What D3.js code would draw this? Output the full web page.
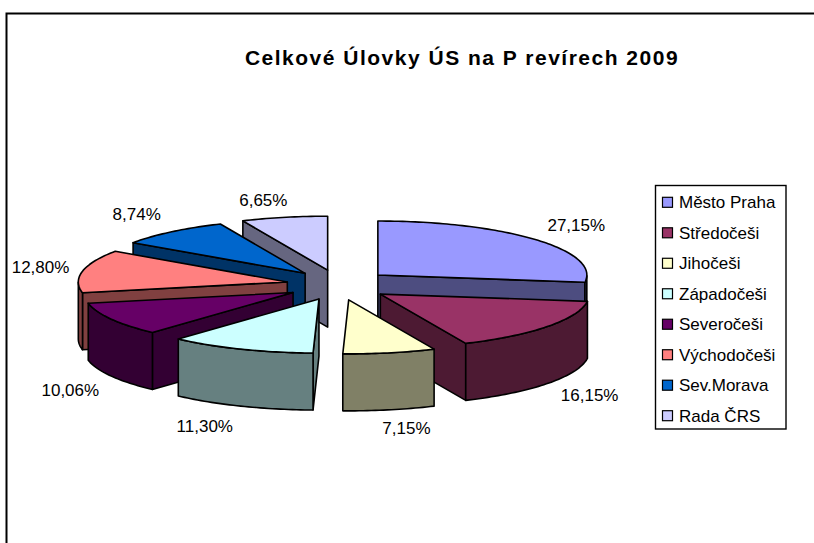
<!DOCTYPE html>
<html lang="cs">
<head>
<meta charset="utf-8">
<script src="https://cdn.jsdelivr.net/npm/d3@7"></script>
<style>
html,body{margin:0;padding:0;background:#fff;overflow:hidden}
svg{display:block}
text{font-family:"Liberation Sans",Arial,sans-serif;fill:#000}
</style>
</head>
<body>
<div id="chart"></div>
<script>
const titleText = "Celkové Úlovky ÚS na P revírech 2009";
const categories = ["Město Praha","Středočeši","Jihočeši","Západočeši","Severočeši","Východočeši","Sev.Morava","Rada ČRS"];
const values = [27.15,16.15,7.15,11.30,10.06,12.80,8.74,6.65];
const colors = ["#9999FF","#993366","#FFFFCC","#CCFFFF","#660066","#FF8080","#0066CC","#CCCCFF"];
const wallColors = ["#4D4D80","#4D1A33","#808066","#668080","#330033","#804040","#003366","#666680"];
// painter's order, back to front (indices into categories)
const drawOrder = [7,6,5,0,4,1,3,2];
// label displacement from the slice's rim midpoint, in px
const labelNudgeX = [41,42,17,-36,-41,-42,-35,-21];
const labelNudgeY = [-15,68,75,77,71,-4,-17.5,-17.5];

const W = 814, H = 543;
const cx = 338.5, cy = 285, rx = 209, ry = 54, depth = 57;
const explode = 0.25, explodeY = 0.29;

const svg = d3.select("#chart").append("svg").attr("width",W).attr("height",H);

// frame (open to the right and bottom, as cropped in the reference)
svg.append("path").attr("d",`M6.5,${H} V13.5 H${W}`).attr("fill","none").attr("stroke","#000").attr("stroke-width",2);

svg.append("text").attr("x",462).attr("y",65).attr("text-anchor","middle")
  .attr("font-size",21).attr("font-weight","bold").attr("letter-spacing",1.5).text(titleText);

const x = d3.scaleLinear().domain([-1,1]).range([cx-rx,cx+rx]);
const y = d3.scaleLinear().domain([-1,1]).range([cy-ry,cy+ry]);

const arcs = d3.pie().sort(null).value(d=>d).startAngle(0).endAngle(2*Math.PI)(values);
const line = d3.line().x(d=>d[0]).y(d=>d[1]);
const stroke = {stroke:"#000",width:1.6};

function face(g,pts,fill){
  g.append("path").attr("d",line(pts)+"Z").attr("fill",fill)
    .attr("stroke",stroke.stroke).attr("stroke-width",stroke.width).attr("stroke-linejoin","round");
}

drawOrder.forEach(i=>{
  const a = arcs[i], mid = (a.startAngle+a.endAngle)/2;
  const ax = x(explode*Math.sin(mid)), ay = y(-explode*explodeY/(ry/rx)*Math.cos(mid)*1);
  const rim = t=>[ax+(x(Math.sin(t))-cx), ay+(y(-Math.cos(t))-cy)];
  const down = p=>[p[0],p[1]+depth];
  const g = svg.append("g");
  const n = Math.max(8,Math.ceil((a.endAngle-a.startAngle)/0.02));
  const angles = d3.range(n+1).map(k=>a.startAngle+(a.endAngle-a.startAngle)*k/n);
  const A = [ax,ay];
  // radial walls facing the viewer
  if(Math.sin(a.startAngle)<-1e-6){
    const R = rim(a.startAngle);
    face(g,[A,R,down(R),down(A)],wallColors[i]);
  }
  if(Math.sin(a.endAngle)>1e-6){
    const R = rim(a.endAngle);
    face(g,[A,R,down(R),down(A)],wallColors[i]);
  }
  // outer wall, front half only
  const front = angles.filter(t=>Math.cos(t)<0);
  if(front.length>1){
    const top = front.map(rim);
    face(g,top.concat(top.map(down).reverse()),wallColors[i]);
  }
  // top surface
  face(g,[A].concat(angles.map(rim)),colors[i]);
});

// percentage labels
const labelFmt = v=>d3.format(".2f")(v).replace(".",",")+"%";
arcs.forEach((a,i)=>{
  const mid = (a.startAngle+a.endAngle)/2;
  const lx = cx+(1+explode)*(x(Math.sin(mid))-cx)+labelNudgeX[i];
  const ly = cy+(y(-Math.cos(mid))-cy)*(1+explode*explodeY/(ry/rx))+labelNudgeY[i];
  svg.append("text").attr("x",lx).attr("y",ly).attr("dy","0.36em").attr("text-anchor","middle")
    .attr("font-size",17).text(labelFmt(values[i]));
});

// legend
const legend = svg.append("g");
legend.append("rect").attr("x",655.5).attr("y",185.5).attr("width",130.5).attr("height",243.5)
  .attr("fill","#fff").attr("stroke","#000").attr("stroke-width",1.4);
const rowY = d3.scalePoint().domain(categories).range([202.3,415.7]);
categories.forEach((c,i)=>{
  legend.append("rect").attr("x",662.5).attr("y",rowY(c)-5).attr("width",10).attr("height",10)
    .attr("fill",colors[i]).attr("stroke","#000").attr("stroke-width",1.2);
  legend.append("text").attr("x",679).attr("y",rowY(c)).attr("dy","0.36em").attr("font-size",17).text(c);
});
</script>
</body>
</html>
